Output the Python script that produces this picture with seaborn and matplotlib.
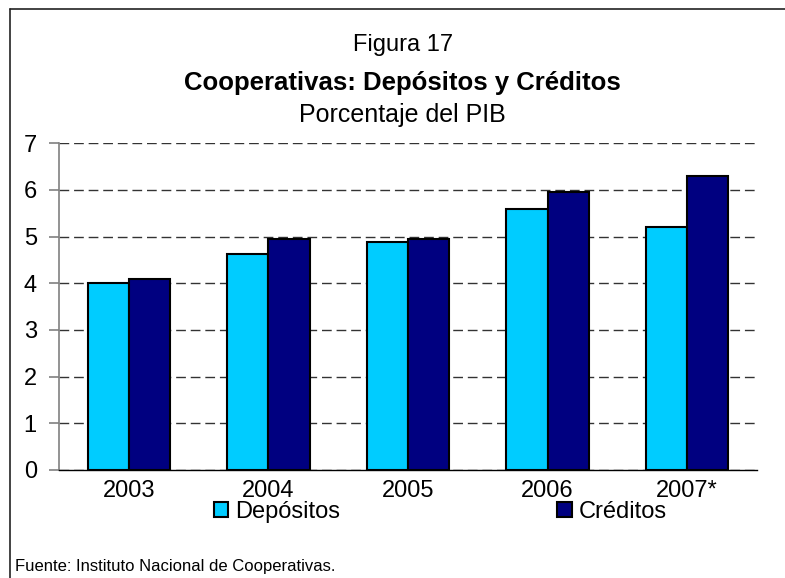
import seaborn as sns
import matplotlib.pyplot as plt
import pandas as pd
from matplotlib.lines import Line2D

sns.set_theme(style="white")
plt.rcParams['font.family'] = ['Liberation Sans', 'DejaVu Sans']
plt.rcParams['text.color'] = 'black'
plt.rcParams['xtick.color'] = 'black'
plt.rcParams['ytick.color'] = 'black'

years = ["2003", "2004", "2005", "2006", "2007*"]
depositos = [4.0, 4.63, 4.88, 5.6, 5.2]
creditos = [4.1, 4.96, 4.95, 5.95, 6.3]
series = ["Depósitos", "Créditos"]
colors = ["#00CCFF", "#000080"]

df = pd.DataFrame({
    "year": years * 2,
    "value": depositos + creditos,
    "serie": [series[0]] * len(years) + [series[1]] * len(years),
})

fig = plt.figure(figsize=(7.85, 5.78), dpi=100)
ax = fig.add_axes([59 / 785, 1 - 470 / 578, 698 / 785, (470 - 143.3) / 578])

sns.barplot(data=df, x="year", y="value", hue="serie", palette=colors,
            width=0.59, gap=0, edgecolor="black", linewidth=1.5,
            saturation=1, ax=ax)

ax.set_ylim(0, 7)
ax.set_xlim(-0.5, 4.5)
ax.set_yticks(range(0, 8))
ax.set_xlabel("")
ax.set_ylabel("")
ax.set_axisbelow(True)
ax.yaxis.grid(True, color="#333333", linewidth=1, linestyle=(0, (7, 3.5)))
ax.xaxis.grid(False)
for s in ["top", "right"]:
    ax.spines[s].set_visible(False)
ax.spines["left"].set_color("#808080")
ax.spines["bottom"].set_color("black")
ax.spines["left"].set_linewidth(1.2)
ax.spines["bottom"].set_linewidth(1)
ax.tick_params(axis="y", labelsize=17, length=7, width=1.2, direction="out",
               left=True, color="#808080", labelcolor="black", pad=9)
ax.tick_params(axis="x", labelsize=17, length=0, pad=7, labelcolor="black")

sns.move_legend(ax, "center", bbox_to_anchor=(0.561, 1 - 512 / 578),
                bbox_transform=fig.transFigure, ncol=2, frameon=False,
                title=None, fontsize=17, columnspacing=9.2,
                handlelength=0.6, handleheight=0.6, handletextpad=0.3)

fig.text(0.513, 1 - 45 / 578, "Figura 17", ha="center", va="center", fontsize=17)
fig.text(0.513, 1 - 83 / 578, "Cooperativas: Depósitos y Créditos", ha="center",
         va="center", fontsize=18.5, fontweight="bold")
fig.text(0.513, 1 - 115 / 578, "Porcentaje del PIB", ha="center", va="center",
         fontsize=18)
fig.text(15 / 785, 1 - 566 / 578, "Fuente: Instituto Nacional de Cooperativas.",
         ha="left", va="center", fontsize=12)

# marco recortado (solo arriba e izquierda)
fig.add_artist(Line2D([10 / 785, 1], [1 - 9 / 578, 1 - 9 / 578],
                      transform=fig.transFigure, color="#222222", linewidth=1.2))
fig.add_artist(Line2D([10 / 785, 10 / 785], [0, 1 - 9 / 578],
                      transform=fig.transFigure, color="#222222", linewidth=1.2))

plt.savefig("out.png", dpi=100)
